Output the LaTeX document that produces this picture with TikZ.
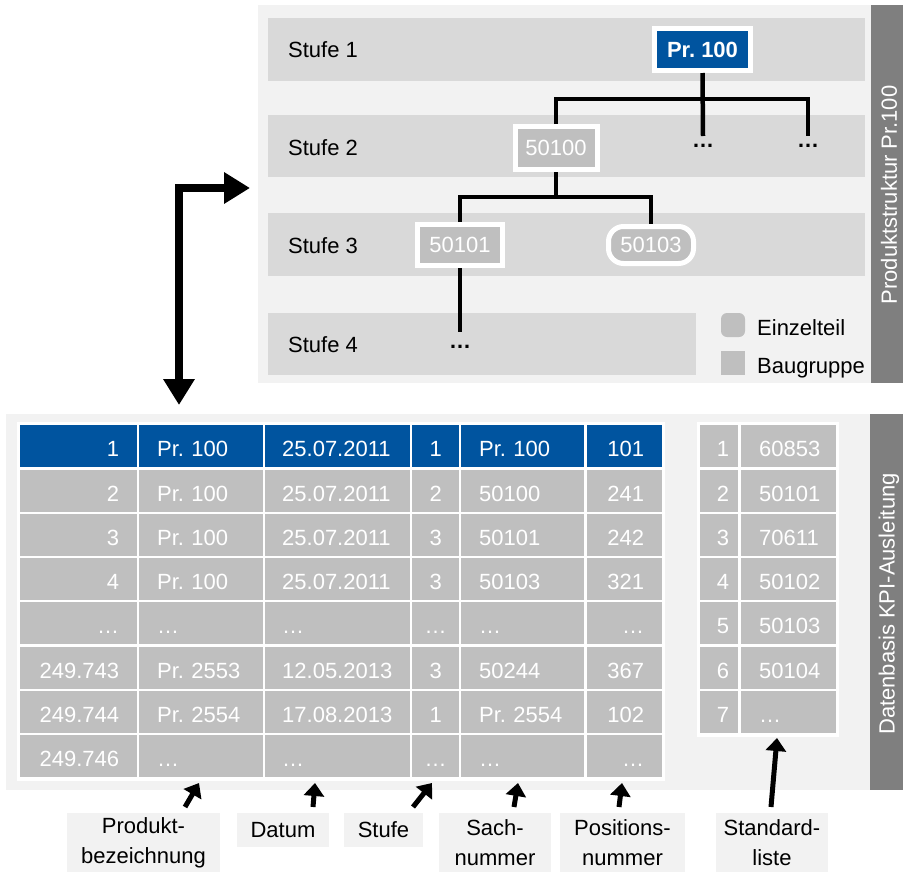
\documentclass[tikz,border=0pt]{standalone}
\usepackage{fontspec}
\setmainfont{Liberation Sans}
\usepackage{tikz}
\usetikzlibrary{arrows.meta}
\frenchspacing

\definecolor{kpiblue}{RGB}{0,84,159}
\definecolor{cellgray}{RGB}{191,191,191}
\definecolor{stripe}{RGB}{217,217,217}
\definecolor{panelbg}{RGB}{242,242,242}
\definecolor{barbg}{RGB}{127,127,127}
\newcommand{\kpifont}{\fontsize{22}{30}\selectfont}

\begin{document}
\begin{tikzpicture}[x=1pt, y=-1pt, font=\kpifont,
    cell/.style={rectangle, anchor=north west, fill=cellgray, text=white,
      inner ysep=0pt, minimum height=42pt, text height=21pt, text depth=0pt},
    treebox/.style={rectangle, draw=white, line width=5pt, fill=cellgray,
      text=white, inner sep=0pt},
    treeline/.style={line width=4.5pt, black},
    colarrow/.style={line width=5pt, -{Triangle[length=13pt, width=20pt]}},
    bigarrow/.style={line width=8pt,
      {Triangle[length=26pt, width=30pt]}-{Triangle[length=26pt, width=30pt]}},
    lbl/.style={rectangle, fill=panelbg, inner sep=0pt, align=center}]

    \useasboundingbox (0,0) rectangle (903,873);

    % Produktstruktur (top panel)
    \fill[panelbg] (258,5) rectangle (871,383);
    \fill[stripe] (268,18) rectangle (865,81);
    \fill[stripe] (268,115) rectangle (865,177);
    \fill[stripe] (268,213) rectangle (865,276);
    \fill[stripe] (268,313) rectangle (696,375);

    \node[anchor=west, inner sep=0pt] (st1) at (288,50) {Stufe 1};
    \node[anchor=west, inner sep=0pt] (st2) at (288,148) {Stufe 2};
    \node[anchor=west, inner sep=0pt] (st3) at (288,246) {Stufe 3};
    \node[anchor=west, inner sep=0pt] (st4) at (288,345) {Stufe 4};

    % Baum
    \node[treebox, fill=kpiblue, font=\kpifont\bfseries, minimum width=96pt,
      minimum height=42pt] (pr100) at (702.5,49.5) {Pr. 100};
    \node[treebox, minimum width=82pt, minimum height=43pt] (p50100) at (556,148) {50100};
    \node[treebox, minimum width=85pt, minimum height=41pt] (p50101) at (460,245) {50101};
    \node[treebox, rounded corners=15pt, minimum width=85pt,
      minimum height=37pt] (p50103) at (651,245) {50103};

    \node[font=\kpifont\bfseries, inner sep=0pt] (d2a) at (703,146) {…};
    \node[font=\kpifont\bfseries, inner sep=0pt] (d2b) at (808,146) {…};
    \node[font=\kpifont\bfseries, inner sep=0pt] (d4) at (460,347) {…};

    \coordinate (j1) at (703,99);
    \coordinate (j2) at (556,197);
    \coordinate (e2a) at (703,136);
    \coordinate (e2b) at (808,136);
    \coordinate (e4) at (460,332);

    \draw[treeline] (pr100.south) -- (e2a);
    \draw[treeline] (p50100.north) |- (j1) -| (e2b);
    \draw[treeline] (p50100.south) -- (j2);
    \draw[treeline] (p50101.north) |- (j2) -| (p50103.north);
    \draw[treeline] (p50101.south) -- (e4);

    % Legende
    \node[fill=cellgray, rounded corners=6pt, minimum size=24pt, inner sep=0pt] (legE) at (733,325) {};
    \node[fill=cellgray, minimum size=24pt, inner sep=0pt] (legB) at (733,363) {};
    \node[anchor=base west, inner sep=0pt] (legEtxt) at (757,335) {Einzelteil};
    \node[anchor=base west, inner sep=0pt] (legBtxt) at (757,373) {Baugruppe};

    \fill[barbg] (871,5) rectangle (903,383);
    \node[rotate=90, text=white] (ptitle) at (889,195) {Produktstruktur Pr.100};

    % Verbindung Struktur <-> Datenbasis
    \coordinate (bigtop) at (250,188);
    \coordinate (bigbot) at (179,405);
    \draw[bigarrow] (bigbot) |- (bigtop);

    % Datenbasis (bottom panel)
    \fill[panelbg] (6,414) rectangle (870,790);
    \fill[barbg] (870,414) rectangle (903,790);
    \node[rotate=90, text=white] (dtitle) at (889,604) {Datenbasis KPI-Ausleitung};

    \fill[white] (17,422) rectangle (665,781);
    \fill[white] (697,422) rectangle (839,737);

    \foreach \r/\ca/\cb/\cc/\cd/\ce/\cf in {
        1/1/Pr. 100/25.07.2011/1/Pr. 100/101,
        2/2/Pr. 100/25.07.2011/2/50100/241,
        3/3/Pr. 100/25.07.2011/3/50101/242,
        4/4/Pr. 100/25.07.2011/3/50103/321,
        5/…/…/…/…/…/…,
        6/249.743/Pr. 2553/12.05.2013/3/50244/367,
        7/249.744/Pr. 2554/17.08.2013/1/Pr. 2554/102,
        8/249.746/…/…/…/…/…}
    {
        \pgfmathsetmacro{\ytop}{425+(\r-1)*44.3}
        \ifnum\r=1 \def\cfill{kpiblue}\else\def\cfill{cellgray}\fi
        \node[cell, fill=\cfill, minimum width=117pt, inner xsep=18pt,
          text width=81pt, align=right] (t\r-1) at (20,\ytop) {\ca};
        \node[cell, fill=\cfill, minimum width=124pt, inner xsep=18pt,
          text width=88pt, align=left] (t\r-2) at (139,\ytop) {\cb};
        \node[cell, fill=\cfill, minimum width=145pt, inner xsep=17pt,
          text width=111pt, align=left] (t\r-3) at (265,\ytop) {\cc};
        \node[cell, fill=\cfill, minimum width=47pt, inner xsep=0pt,
          text width=47pt, align=center] (t\r-4) at (412,\ytop) {\cd};
        \node[cell, fill=\cfill, minimum width=123pt, inner xsep=18pt,
          text width=87pt, align=left] (t\r-5) at (461,\ytop) {\ce};
        \node[cell, fill=\cfill, minimum width=75pt, inner xsep=18pt,
          text width=39pt, align=right] (t\r-6) at (587,\ytop) {\cf};
    }

    % Standardliste
    \foreach \r/\sa/\sb in {1/1/60853, 2/2/50101, 3/3/70611, 4/4/50102,
        5/5/50103, 6/6/50104, 7/7/…}
    {
        \pgfmathsetmacro{\ytop}{425+(\r-1)*44.3}
        \node[cell, minimum width=38pt, inner xsep=9pt,
          text width=20pt, align=right] (s\r-1) at (700,\ytop) {\sa};
        \node[cell, minimum width=95pt, inner xsep=18pt,
          text width=59pt, align=left] (s\r-2) at (741,\ytop) {\sb};
    }

    % Spaltenbeschriftung
    \node[lbl, minimum width=153pt, minimum height=59pt] (lblProd) at (143.5,842.5) {Produkt-\\bezeichnung};
    \node[lbl, minimum width=92pt, minimum height=34pt] (lblDat) at (283,830) {Datum};
    \node[lbl, minimum width=79pt, minimum height=34pt] (lblStufe) at (383.5,830) {Stufe};
    \node[lbl, minimum width=112pt, minimum height=59pt] (lblSach) at (495,842.5) {Sach-\\nummer};
    \node[lbl, minimum width=125pt, minimum height=59pt] (lblPos) at (622.5,842.5) {Positions-\\nummer};
    \node[lbl, minimum width=112pt, minimum height=59pt] (lblStd) at (772,842.5) {Standard-\\liste};

    \coordinate (aProd) at (185,807);  \coordinate (tProd) at (199,783);
    \coordinate (aDat) at (313,807);   \coordinate (tDat) at (315,783);
    \coordinate (aStufe) at (413,807); \coordinate (tStufe) at (432,783);
    \coordinate (aSach) at (514,807);  \coordinate (tSach) at (518,783);
    \coordinate (aPos) at (619,807);   \coordinate (tPos) at (622,783);
    \coordinate (aStd) at (771,807);   \coordinate (tStd) at (777,738);

    \draw[colarrow] (aProd) -- (tProd);
    \draw[colarrow] (aDat) -- (tDat);
    \draw[colarrow] (aStufe) -- (tStufe);
    \draw[colarrow] (aSach) -- (tSach);
    \draw[colarrow] (aPos) -- (tPos);
    \draw[colarrow] (aStd) -- (tStd);

\end{tikzpicture}
\end{document}
